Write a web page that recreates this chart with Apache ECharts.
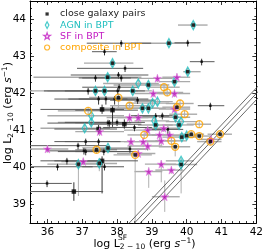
<!DOCTYPE html>
<html><head><meta charset="utf-8">
<script src="https://cdn.jsdelivr.net/npm/echarts@6/dist/echarts.min.js"></script>
<style>html,body{margin:0;padding:0;background:#fff}#c{width:266px;height:252px}</style>
</head><body><div id="c"></div>
<script>
// ---- axis ticks ----
const xTickVals = [36, 37, 38, 39, 40, 41, 42];
const yTickVals = [39, 40, 41, 42, 43, 44];
const xRange = [35.5, 42];
const yRange = [38.5, 44.5];
// ---- relation lines: y = x + offset ----
const relationOffsets = [0.15, 0, -0.17];
const relationX = [37.5, 43];
// ---- data: [x, y, xlo, xhi, ylo, yhi] ----
const smallPts = [
[38.12,43.36,37.13,38.98,43.26,43.44],[40.03,43.37,39.65,40.40,43.27,43.45],
[37.64,43.13,37.28,37.99,43.03,43.21],[40.43,42.86,40.09,40.80,42.76,42.94],
[38.23,42.68,36.85,38.75,42.58,42.76],[38.04,42.50,36.67,38.90,42.40,42.58],
[37.38,42.42,36.90,38.40,42.32,42.50],[38.12,42.42,37.00,38.60,42.32,42.50],
[37.17,42.07,35.90,38.00,41.97,42.15],[38.02,42.07,36.50,38.80,41.97,42.15],
[38.06,42.17,37.00,38.60,42.07,42.25],[37.47,41.85,36.20,38.30,41.70,41.93],
[37.68,41.85,36.60,38.60,41.70,41.93],[37.93,41.85,36.90,38.90,41.70,41.93],
[38.59,41.82,37.80,39.10,41.72,41.90],[40.68,41.67,40.32,41.08,41.55,41.75],
[39.30,41.40,38.40,39.60,41.30,41.48],[39.11,41.39,38.50,39.50,41.29,41.47],
[37.78,41.20,36.00,38.30,41.10,41.28],[38.00,41.22,36.50,38.80,41.12,41.30],
[37.74,41.21,36.80,38.40,41.11,41.29],[38.50,41.08,37.60,39.00,40.98,41.16],
[39.46,41.03,38.90,39.90,40.85,41.11],[37.10,40.70,36.20,37.80,40.60,40.78],
[37.47,40.70,36.50,38.10,40.60,40.78],[36.88,40.59,35.50,37.70,40.49,40.67],
[37.05,40.45,36.00,37.80,40.35,40.53],[37.10,40.43,36.30,38.40,40.33,40.51],
[37.62,40.43,36.80,38.50,40.33,40.51],[38.37,40.50,37.50,38.90,40.40,40.58],
[36.56,40.18,35.80,37.50,40.08,40.26],[36.29,40.02,35.50,37.30,39.92,40.10],
[37.64,40.02,37.00,38.20,39.92,40.10],[35.99,39.57,35.50,36.70,39.47,39.65]
];
const pairPts = [
[37.57,41.57,35.80,38.20,41.45,41.70],[37.87,41.55,36.80,38.60,41.10,41.65],
[38.21,41.17,37.20,38.70,41.05,41.30],[37.47,41.04,36.20,38.00,40.90,41.15],
[37.57,40.18,36.20,38.60,39.30,40.30],[36.76,39.35,35.50,37.60,39.10,39.60]
];
// [x, y, xlo, xhi, ylo, yhi, isPair]
const agnPts = [
[40.19,43.85,39.75,40.60,43.75,43.95,1],[39.49,43.36,38.40,40.00,43.26,43.46,1],
[37.87,42.82,37.05,38.47,42.72,42.92,1],[40.03,42.59,39.90,40.40,42.49,42.69,1],
[37.73,42.44,35.60,38.70,42.34,42.54,1],[39.65,42.32,39.20,40.10,42.22,42.42,1],
[38.61,42.27,37.60,39.20,42.17,42.37,0],[38.90,42.23,37.90,39.50,42.13,42.33,1],
[37.38,42.07,35.50,38.50,41.97,42.17,1],[37.64,42.07,36.00,38.60,41.97,42.17,1],
[38.45,42.07,37.00,39.00,41.97,42.17,1],[39.02,41.74,38.30,39.50,41.64,41.84,0],
[39.16,41.78,38.50,39.60,41.68,41.88,0],[38.73,41.60,37.50,39.20,41.50,41.70,1],
[38.90,41.60,38.00,39.40,41.50,41.70,1],[37.26,41.40,36.00,38.20,41.30,41.50,0],
[37.26,41.22,36.30,38.00,41.12,41.32,0],[39.68,41.36,39.20,40.10,41.26,41.46,1],
[39.07,41.26,38.50,39.50,41.16,41.36,0],[39.11,41.15,38.60,39.60,41.05,41.25,1],
[39.78,41.15,39.30,40.20,41.05,41.25,1],[39.84,41.24,39.40,40.30,41.14,41.34,0],
[37.07,41.06,35.80,37.80,40.96,41.16,0],[39.86,40.82,39.30,40.30,40.72,40.92,1],
[40.00,40.86,39.50,40.40,40.76,40.96,1],[37.74,40.53,37.00,38.40,40.43,40.63,1],
[36.89,40.09,36.00,37.60,39.23,40.20,1],[37.49,40.11,36.90,38.00,39.90,40.25,1],
[39.84,40.08,39.20,40.30,39.30,40.20,1],[39.84,40.18,39.40,40.20,40.10,40.26,0]
];
const sfPts = [
[39.16,42.41,38.60,39.60,42.31,42.51],[39.72,42.44,39.30,40.10,42.34,42.54],
[39.04,42.00,38.50,39.50,41.90,42.10],[39.65,42.00,39.20,40.10,41.90,42.10],
[39.65,41.58,39.20,40.10,41.48,41.68],[38.36,41.35,37.70,38.90,41.20,41.45],
[38.61,41.35,38.00,39.10,41.20,41.45],[37.50,40.97,36.80,38.20,40.85,41.07],
[38.88,41.01,38.20,39.30,40.90,41.11],[39.34,41.06,38.80,39.80,40.96,41.16],
[39.22,40.88,38.70,39.60,40.60,40.98],[39.51,40.88,39.00,39.90,40.78,40.98],
[40.70,40.76,40.40,41.00,40.66,40.86],[38.40,40.70,37.80,38.90,40.55,40.80],
[38.75,40.70,38.20,39.20,40.55,40.80],[39.27,40.72,38.80,39.70,40.60,40.82],
[38.88,40.58,38.30,39.30,40.45,40.68],[36.00,40.50,35.50,36.60,40.40,40.60],
[38.61,40.38,38.00,39.10,40.28,40.48],[37.03,40.16,36.40,37.60,40.06,40.26],
[39.27,40.09,38.80,39.70,39.60,40.20],[39.56,39.93,39.10,39.90,39.83,40.03],
[38.91,39.89,38.50,39.30,39.45,40.00],[39.37,39.21,39.00,39.80,38.80,39.65]
];
const compPts = [
[39.35,42.17,38.90,39.80,42.07,42.27,0],[39.44,42.03,39.00,39.90,41.93,42.13,0],
[38.04,41.89,37.20,38.60,41.60,42.00,1],[38.36,41.67,37.80,38.90,41.57,41.77,0],
[39.81,41.73,39.40,40.20,41.63,41.83,0],[39.72,41.63,39.30,40.10,41.53,41.73,1],
[37.17,41.53,36.30,37.90,41.43,41.63,0],[39.94,41.44,39.50,40.30,41.34,41.54,0],
[40.36,41.17,40.00,40.70,41.07,41.27,0],[38.78,40.88,38.30,39.20,40.78,40.98,0],
[40.13,40.90,39.80,40.50,40.80,41.00,1],[40.36,40.85,40.00,40.70,40.75,40.95,1],
[40.96,40.90,40.60,41.30,40.80,41.00,1],[40.68,40.70,40.30,41.00,40.60,40.80,1],
[39.56,40.72,39.10,40.00,40.62,40.82,0],[39.67,40.56,39.20,40.10,40.30,40.66,1],
[37.41,40.48,36.80,38.00,40.38,40.58,1],[38.52,40.34,37.90,39.00,38.50,40.44,1]
];

const CYAN = '#1fbfbf', MAG = '#c218c2', ORG = '#ffa500';
const FONT = 'DejaVu Sans';
const STAR = 'path://M50,0 L61,35 L98,35 L68,57 L79,91 L50,70 L21,91 L32,57 L2,35 L39,35 Z';

function minorVals(r, step) { const out = []; for (let v = r[0]; v <= r[1] + 1e-9; v += step) { const w = Math.round(v * 10) / 10; if (Math.abs(w - Math.round(w)) > 1e-6) out.push(w); } return out; }

function errSeries(data, hColor, hWidth, vColor, vWidth) {
  return {
    type: 'custom', xAxisIndex: 0, yAxisIndex: 0, clip: true, silent: true, z: 1,
    data: data.map(d => d.slice(0, 6)),
    encode: { x: 0, y: 1 },
    renderItem: function (params, api) {
      const x = api.value(0), y = api.value(1);
      const a = api.coord([api.value(2), y]), b = api.coord([api.value(3), y]);
      const c = api.coord([x, api.value(4)]), d = api.coord([x, api.value(5)]);
      return { type: 'group', children: [
        { type: 'line', shape: { x1: a[0], y1: a[1], x2: b[0], y2: b[1] }, style: { stroke: hColor, lineWidth: hWidth } },
        { type: 'line', shape: { x1: c[0], y1: c[1], x2: d[0], y2: d[1] }, style: { stroke: vColor, lineWidth: vWidth } }
      ] };
    }
  };
}

function axis(pos, range, ticks, showLabel, minor) {
  return {
    type: 'value', position: pos, min: range[0], max: range[1],
    axisLine: { show: !minor, onZero: false, lineStyle: { color: '#000', width: 1 } },
    splitLine: { show: false },
    axisTick: { show: true, inside: true, length: minor ? 2 : 4, customValues: ticks, lineStyle: { color: '#000', width: 0.8 } },
    axisLabel: { show: showLabel, customValues: ticks, color: '#000', fontSize: 10.5, fontFamily: FONT, margin: 4 }
  };
}

const chart = echarts.init(document.getElementById('c'), null, { renderer: 'canvas' });

const relSeries = relationOffsets.map(c => ({
  type: 'line', xAxisIndex: 0, yAxisIndex: 0, symbol: 'none', silent: true, z: 2,
  lineStyle: { color: '#444', width: 0.8 },
  data: relationX.map(x => [x, x + c])
}));

const titleRich = {
  n: { fontSize: 11, fontFamily: FONT, lineHeight: 14, verticalAlign: 'middle' },
  it: { fontSize: 11, fontFamily: FONT, fontStyle: 'italic', lineHeight: 14 },
  sub: { fontSize: 7.5, fontFamily: FONT, lineHeight: 14, verticalAlign: 'bottom', padding: [6, 0, 0, 0] },
  sup: { fontSize: 7.5, fontFamily: FONT, lineHeight: 8, verticalAlign: 'top' }
};

const option = {
  animation: false,
  grid: { left: 30, right: 7, top: 1, bottom: 29, containLabel: false },
  xAxis: [
    axis('bottom', xRange, xTickVals, true, false),
    axis('bottom', xRange, minorVals(xRange, 0.2), false, true),
    axis('top', xRange, xTickVals, false, false),
    axis('top', xRange, minorVals(xRange, 0.2), false, true)
  ],
  yAxis: [
    axis('left', yRange, yTickVals, true, false),
    axis('left', yRange, minorVals(yRange, 0.2), false, true),
    axis('right', yRange, yTickVals, false, false),
    axis('right', yRange, minorVals(yRange, 0.2), false, true)
  ],
  legend: {
    left: 37, top: 4, orient: 'vertical', itemGap: 1, itemWidth: 10, itemHeight: 9,
    selectedMode: false,
    textStyle: { fontSize: 9.5, fontFamily: FONT, lineHeight: 9, padding: [0, 0, 0, 3] },
    data: [
      { name: 'close galaxy pairs', icon: 'path://M0,0M10,10M3.2,3.2L6.8,3.2L6.8,6.8L3.2,6.8Z', itemStyle: { color: '#000', borderWidth: 0 }, textStyle: { color: '#222' } },
      { name: 'AGN in BPT', icon: 'path://M0,0M10,10M5,1.2L7,5L5,8.8L3,5Z', itemStyle: { color: 'rgba(0,0,0,0)', borderColor: CYAN, borderWidth: 1.2 }, textStyle: { color: CYAN } },
      { name: 'SF in BPT', icon: 'path://M-15,-15M115,115' + STAR.replace('path://', ''), itemStyle: { color: 'rgba(0,0,0,0)', borderColor: MAG, borderWidth: 1.2 }, textStyle: { color: MAG } },
      { name: 'composite in BPT', icon: 'path://M0,0M10,10M5,2.2A2.8,2.8 0 1,1 4.99,2.2Z', itemStyle: { color: 'rgba(0,0,0,0)', borderColor: ORG, borderWidth: 1.2 }, textStyle: { color: ORG } }
    ]
  },
  graphic: [
    { type: 'text', x: 8, y: 113, rotation: Math.PI / 2, silent: true,
      style: { text: '{n|log L}{sub|2 − 10}{n| (erg }{it|s}{sup|−1}{n|)}', align: 'center', verticalAlign: 'middle', fill: '#000', rich: titleRich } },
    { type: 'text', x: 144.5, y: 244, silent: true,
      style: { text: '{n|log L}{sub|2 − 10}{n| (erg }{it|s}{sup|−1}{n|)}', align: 'center', verticalAlign: 'middle', fill: '#000', rich: titleRich } },
    { type: 'text', x: 118, y: 238.5, silent: true,
      style: { text: 'SF', fontSize: 7.5, fontFamily: FONT, fill: '#000', align: 'left', verticalAlign: 'middle' } }
  ],
  series: [
    errSeries(agnPts.concat(sfPts, compPts), '#aaaaaa', 1.4, '#b0b0b0', 1),
    errSeries(smallPts.concat(pairPts), '#5a5a5a', 1, '#333', 1),
    ...relSeries,
    { name: 'close galaxy pairs', type: 'scatter', xAxisIndex: 0, yAxisIndex: 0, z: 3, symbol: 'rect', symbolSize: 2.5,
      itemStyle: { color: '#000' }, data: smallPts.map(d => [d[0], d[1]]) },
    { name: 'close galaxy pairs', type: 'scatter', xAxisIndex: 0, yAxisIndex: 0, z: 3, symbol: 'rect', symbolSize: 4.5,
      itemStyle: { color: '#000' }, data: pairPts.map(d => [d[0], d[1]]) },
    { name: 'AGN in BPT', type: 'scatter', xAxisIndex: 0, yAxisIndex: 0, z: 4, symbol: 'diamond', symbolSize: [5, 9],
      itemStyle: { color: 'rgba(0,0,0,0)', borderColor: CYAN, borderWidth: 1.4 }, data: agnPts.map(d => [d[0], d[1]]) },
    { name: 'SF in BPT', type: 'scatter', xAxisIndex: 0, yAxisIndex: 0, z: 4, symbol: STAR, symbolSize: 8,
      itemStyle: { color: MAG, borderColor: '#e58ae5', borderWidth: 0.8 }, data: sfPts.map(d => [d[0], d[1]]) },
    { name: 'composite in BPT', type: 'scatter', xAxisIndex: 0, yAxisIndex: 0, z: 4, symbol: 'circle', symbolSize: 7,
      itemStyle: { color: 'rgba(0,0,0,0)', borderColor: ORG, borderWidth: 1.3 }, data: compPts.map(d => [d[0], d[1]]) },
    { name: 'pair centers', type: 'scatter', xAxisIndex: 0, yAxisIndex: 0, z: 5, symbol: 'rect', symbolSize: 3.5,
      itemStyle: { color: '#000' }, data: agnPts.concat(compPts).filter(d => d[6] === 1).map(d => [d[0], d[1]]) }
  ]
};
chart.setOption(option);
</script></body></html>
